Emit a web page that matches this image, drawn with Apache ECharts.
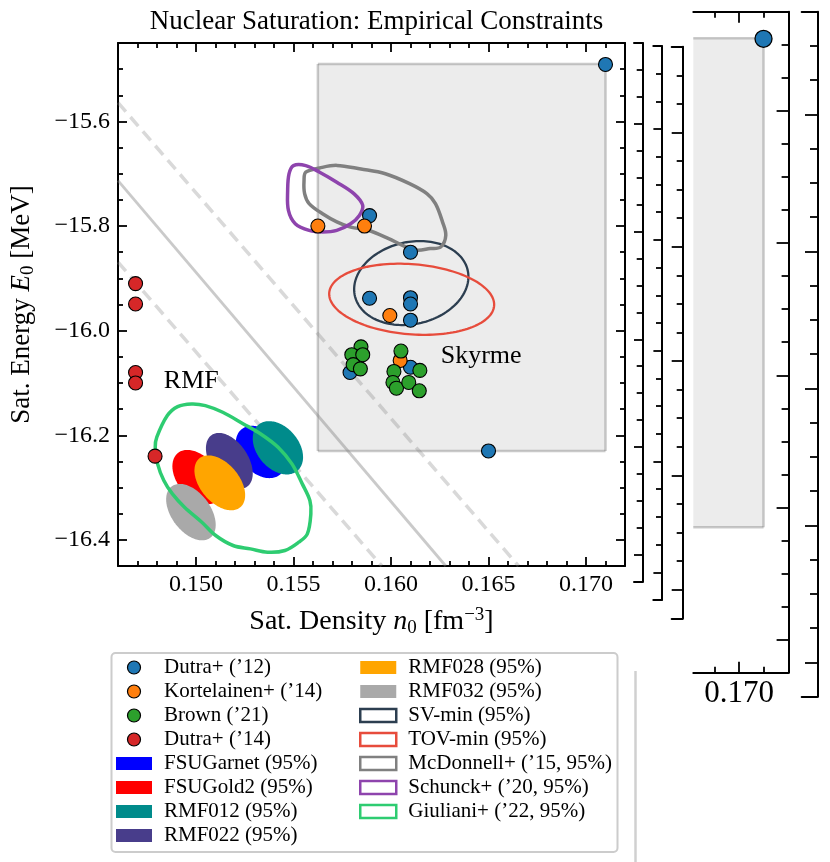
<!DOCTYPE html>
<html><head><meta charset="utf-8">
<script src="https://cdn.jsdelivr.net/npm/echarts@6/dist/echarts.min.js"></script>
<style>html,body{margin:0;padding:0;background:#fff}#c{width:830px;height:862px}</style>
</head><body><div id="c"></div>
<script>
// ---------------- data ----------------
const X_MIN = 0.146, X_MAX = 0.172, Y_MIN = -16.45, Y_MAX = -15.45;
const INSET_X_MIN = 0.16811, INSET_X_MAX = 0.17202;
const xMajorTicks = [0.150, 0.155, 0.160, 0.165, 0.170];
const yMajorTicks = [-16.4, -16.2, -16.0, -15.8, -15.6];
const insetXMajorTicks = [0.170];
const insetXMinorTicks = [0.169, 0.171];

const dutra12 = [[0.1710,-15.491],[0.1589,-15.780],[0.1610,-15.850],[0.1589,-15.938],[0.1610,-15.937],
  [0.1610,-15.949],[0.1610,-15.980],[0.1579,-16.080],[0.1610,-16.070],[0.1650,-16.230]];
const kortelainen14 = [[0.15625,-15.800],[0.15864,-15.800],[0.15994,-15.971],[0.16047,-16.057]];
const brown21 = [[0.15846,-16.031],[0.15799,-16.046],[0.15855,-16.046],[0.15806,-16.065],[0.15843,-16.073],
  [0.16051,-16.039],[0.16015,-16.078],[0.16148,-16.076],[0.16010,-16.099],[0.16028,-16.110],[0.16091,-16.099],[0.16145,-16.115]];
const dutra14 = [[0.1469,-15.910],[0.1469,-15.949],[0.1469,-16.080],[0.1469,-16.100],[0.1479,-16.240]];

// [cx, cy, halfWidthX, halfWidthY, correlation]
const fsuGarnet = [0.15332,-16.232,0.00128,0.050,-0.35];
const fsuGold2  = [0.15007,-16.280,0.00128,0.052,-0.40];
const rmf012    = [0.15420,-16.224,0.00129,0.051,-0.35];
const rmf022    = [0.15171,-16.249,0.00120,0.0535,-0.45];
const rmf028    = [0.15122,-16.291,0.00130,0.0525,-0.45];
const rmf032    = [0.14974,-16.347,0.00127,0.054,-0.45];
const svMin     = [0.16104,-15.909,0.00293,0.0803,0.15];
const tovMin    = [0.16106,-15.940,0.00423,0.068,-0.15];

const mcDonnell = [[0.15563,-15.697],[0.15634,-15.689],[0.15722,-15.684],[0.15846,-15.691],[0.15971,-15.700],
  [0.16095,-15.719],[0.16184,-15.738],[0.16228,-15.757],[0.16264,-15.792],[0.16281,-15.818],[0.16255,-15.840],
  [0.16201,-15.843],[0.16130,-15.846],[0.16059,-15.837],[0.15988,-15.824],[0.15882,-15.808],[0.15793,-15.802],
  [0.15722,-15.792],[0.15651,-15.777],[0.15580,-15.757],[0.15557,-15.738],[0.15554,-15.713]];
const schunck = [[0.15500,-15.6844],[0.15563,-15.6844],[0.15634,-15.6971],[0.15722,-15.7162],[0.15811,-15.7384],
  [0.15855,-15.7606],[0.15838,-15.7797],[0.15793,-15.7956],[0.15722,-15.8083],[0.15651,-15.8114],[0.15580,-15.8083],
  [0.15509,-15.7956],[0.15474,-15.7702],[0.15470,-15.7321],[0.15477,-15.7003]];
const giuliani = [[0.14799,-16.2038],[0.14853,-16.1624],[0.14906,-16.1452],[0.14977,-16.1401],[0.15048,-16.1433],
  [0.15137,-16.1561],[0.15243,-16.1783],[0.15332,-16.1975],[0.15421,-16.2229],[0.15492,-16.2548],[0.15545,-16.2930],
  [0.15584,-16.3248],[0.15589,-16.3503],[0.15571,-16.3885],[0.15527,-16.4045],[0.15456,-16.4204],[0.15367,-16.4236],
  [0.15279,-16.4172],[0.15190,-16.4108],[0.15101,-16.3917],[0.15030,-16.3662],[0.14941,-16.3376],[0.14879,-16.3121],
  [0.14835,-16.2866],[0.14803,-16.2548],[0.14791,-16.2229]];

const skyrmeBox = [0.15625,-16.23,0.1710,-15.49];
const bandCentre = [[0.146,-15.713],[0.16281,-16.45]];
const bandUpper  = [[0.146,-15.564],[0.16654,-16.45]];
const bandLower  = [[0.146,-15.869],[0.15953,-16.45]];
const textLabels = [[0.14835,-16.096,'RMF'],[0.16255,-16.048,'Skyrme']];

// ---------------- helpers ----------------
const FONT = 'Liberation Serif';
const xMinorTicks = []; for (let k = 147; k <= 171; k++) if (k % 5) xMinorTicks.push(k / 1000);
const yMinorTicks = []; for (let k = -328; k <= -310; k++) if (k % 4) yMinorTicks.push(+(k * 0.05).toFixed(2));

const xAxes = [], yAxes = [];
function valueAxis(gridIndex, position, min, max, ticks, len, lineShown, label, extra) {
  return Object.assign({
    type: 'value', gridIndex, position, min, max,
    axisLine: { show: lineShown, onZero: false, lineStyle: { color: '#000', width: 2 } },
    axisTick: { show: ticks.length > 0, inside: true, length: len, customValues: ticks, lineStyle: { color: '#000', width: 1.8 } },
    axisLabel: label ? Object.assign({ show: true, customValues: ticks, color: '#000', fontFamily: FONT }, label) : { show: false },
    splitLine: { show: false }, axisPointer: { show: false }
  }, extra || {});
}
function add(list, o) { list.push(o); return list.length - 1; }

// main grid 0
function richName(size) {
  return {
    a: { fontFamily: FONT, fontSize: size, color: '#000', lineHeight: 32 },
    i: { fontFamily: FONT, fontSize: size, fontStyle: 'italic', color: '#000', lineHeight: 32 },
    s: { fontFamily: FONT, fontSize: 19, color: '#000', verticalAlign: 'bottom', lineHeight: 17 },
    p: { fontFamily: FONT, fontSize: 19, color: '#000', verticalAlign: 'top', lineHeight: 17 }
  };
}
add(xAxes, valueAxis(0, 'bottom', X_MIN, X_MAX, xMajorTicks, 9, true,
  { fontSize: 24, margin: 7, formatter: v => v.toFixed(3) },
  { name: '{a|Sat. Density }{i|n}{s|0}{a| [fm}{p|−3}{a|]}', nameLocation: 'middle', nameGap: 40,
    nameTextStyle: { rich: richName(28) } }));
add(xAxes, valueAxis(0, 'bottom', X_MIN, X_MAX, xMinorTicks, 5, false));
add(xAxes, valueAxis(0, 'top', X_MIN, X_MAX, xMajorTicks, 9, true));
add(xAxes, valueAxis(0, 'top', X_MIN, X_MAX, xMinorTicks, 5, false));
add(yAxes, valueAxis(0, 'left', Y_MIN, Y_MAX, yMajorTicks, 9, true,
  { fontSize: 24, margin: 8, formatter: v => '−' + Math.abs(v).toFixed(1) },
  { name: '{a|Sat. Energy }{i|E}{s|0}{a| [MeV]}', nameLocation: 'middle', nameGap: 80,
    nameTextStyle: { rich: richName(27) } }));
add(yAxes, valueAxis(0, 'left', Y_MIN, Y_MAX, yMinorTicks, 5, false));
add(yAxes, valueAxis(0, 'right', Y_MIN, Y_MAX, yMajorTicks, 9, true));
add(yAxes, valueAxis(0, 'right', Y_MIN, Y_MAX, yMinorTicks, 5, false));

// inset grid 1
const iX = add(xAxes, valueAxis(1, 'bottom', INSET_X_MIN, INSET_X_MAX, insetXMajorTicks, 11, true,
  { fontSize: 31, margin: 6, formatter: v => v.toFixed(3) }));
add(xAxes, valueAxis(1, 'bottom', INSET_X_MIN, INSET_X_MAX, insetXMinorTicks, 6, false));
add(xAxes, valueAxis(1, 'top', INSET_X_MIN, INSET_X_MAX, insetXMajorTicks, 11, true));
add(xAxes, valueAxis(1, 'top', INSET_X_MIN, INSET_X_MAX, insetXMinorTicks, 6, false));
const iY = add(yAxes, valueAxis(1, 'right', Y_MIN, Y_MAX, yMajorTicks, 11.7, true));
add(yAxes, valueAxis(1, 'right', Y_MIN, Y_MAX, yMinorTicks, 6.7, false));

// extra tick-only frames (grids 2..5)
const frames = [
  { left: 634, top: 43, width: 8.7, height: 538.7, major: 8.7, minor: 6 },
  { left: 653.3, top: 46, width: 8.4, height: 554, major: 8.3, minor: 5.7 },
  { left: 671.7, top: 46.7, width: 11, height: 571.6, major: 11, minor: 6 },
  { left: 801.7, top: 11.7, width: 15.6, height: 685, major: 12.3, minor: 7.3 }
];
const grids = [
  { left: 118, top: 43, width: 507, height: 523 },
  { left: 693.3, top: 11.7, width: 95, height: 661 }
];
frames.forEach((f, i) => {
  const gi = i + 2;
  grids.push({ left: f.left, top: f.top, width: f.width, height: f.height });
  add(xAxes, valueAxis(gi, 'bottom', 0, 1, [], 0, true));
  add(xAxes, valueAxis(gi, 'top', 0, 1, [], 0, true));
  add(yAxes, valueAxis(gi, 'right', Y_MIN, Y_MAX, yMajorTicks, f.major, true));
  add(yAxes, valueAxis(gi, 'right', Y_MIN, Y_MAX, yMinorTicks, f.minor, false));
});
grids.forEach(g => { g.containLabel = false; g.outerBoundsMode = 'none'; });

// ---------------- render helpers ----------------
function ellipseRender(fill, stroke, lw) {
  return function (params, api) {
    const cx = api.value(0), cy = api.value(1), sx = api.value(2), sy = api.value(3), rho = api.value(4);
    const phi = Math.acos(rho), pts = [];
    for (let i = 0; i < 144; i++) {
      const t = i / 144 * 2 * Math.PI;
      pts.push(api.coord([cx + sx * Math.cos(t), cy + sy * Math.cos(t + phi)]));
    }
    return { type: 'polygon', shape: { points: pts },
      style: fill ? { fill: fill, stroke: null } : { fill: null, stroke: stroke, lineWidth: lw } };
  };
}
function contourRender(stroke, lw) {
  return function (params, api) {
    if (params.dataIndexInside !== 0) return null;
    const pts = [];
    for (let i = 0; i < params.dataInsideLength; i++) pts.push(api.coord([api.value(0, i), api.value(1, i)]));
    return { type: 'polygon', shape: { points: pts, smooth: 0.35 },
      style: { fill: null, stroke: stroke, lineWidth: lw, lineJoin: 'round' } };
  };
}
function boxRender(params, api) {
  const a = api.coord([api.value(0), api.value(3)]);
  const b = api.coord([api.value(2), api.value(1)]);
  const cs = params.coordSys;
  const L = Math.max(a[0], cs.x), R = Math.min(b[0], cs.x + cs.width);
  const T = Math.max(a[1], cs.y), B = Math.min(b[1], cs.y + cs.height);
  const st = { stroke: 'rgba(128,128,128,0.42)', lineWidth: 2.5 };
  const ch = [{ type: 'rect', shape: { x: L, y: T, width: R - L, height: B - T }, style: { fill: 'rgba(128,128,128,0.15)' } }];
  if (a[1] >= cs.y) ch.push({ type: 'line', shape: { x1: L, y1: a[1], x2: R, y2: a[1] }, style: st });
  if (b[1] <= cs.y + cs.height) ch.push({ type: 'line', shape: { x1: L, y1: b[1], x2: R, y2: b[1] }, style: st });
  if (a[0] >= cs.x) ch.push({ type: 'line', shape: { x1: a[0], y1: T, x2: a[0], y2: B }, style: st });
  if (b[0] <= cs.x + cs.width) ch.push({ type: 'line', shape: { x1: b[0], y1: T, x2: b[0], y2: B }, style: st });
  return { type: 'group', children: ch };
}
function textRender(params, api) {
  const p = api.coord([api.value(0), api.value(1)]);
  return { type: 'text', x: p[0], y: p[1],
    style: { text: api.value(2), fontFamily: FONT, fontSize: 26, fill: '#000', align: 'left', verticalAlign: 'middle' } };
}

const series = [];
function lineSeries(data, color, w, type) {
  series.push({ type: 'line', data: data, symbol: 'none', silent: true, z: 1, animation: false,
    lineStyle: { color: color, width: w, type: type } });
}
lineSeries(bandCentre, 'rgba(128,128,128,0.42)', 2.8, 'solid');
lineSeries(bandUpper, 'rgba(128,128,128,0.3)', 3.5, [12, 7]);
lineSeries(bandLower, 'rgba(128,128,128,0.3)', 3.5, [12, 7]);

series.push({ type: 'custom', name: 'box', data: [skyrmeBox], renderItem: boxRender, z: 2, silent: true });
series.push({ type: 'custom', name: 'boxInset', data: [skyrmeBox], renderItem: boxRender, z: 2, silent: true,
  xAxisIndex: iX, yAxisIndex: iY });

const ellipses = [
  ['FSUGarnet (95%)', '#0000ff', fsuGarnet], ['FSUGold2 (95%)', '#ff0000', fsuGold2],
  ['RMF012 (95%)', '#008b8b', rmf012], ['RMF022 (95%)', '#483d8b', rmf022],
  ['RMF028 (95%)', '#ffa500', rmf028], ['RMF032 (95%)', '#a9a9a9', rmf032]
];
ellipses.forEach(e => series.push({ type: 'custom', name: e[0], data: [e[2]], encode: { x: 0, y: 1 },
  itemStyle: { color: e[1] }, renderItem: ellipseRender(e[1]), z: 3, silent: true }));

series.push({ type: 'custom', name: 'SV-min (95%)', data: [svMin], encode: { x: 0, y: 1 }, itemStyle: { color: '#2c3e50' },
  renderItem: ellipseRender(null, '#2c3e50', 2.3), z: 4, silent: true });
series.push({ type: 'custom', name: 'TOV-min (95%)', data: [tovMin], encode: { x: 0, y: 1 }, itemStyle: { color: '#e74c3c' },
  renderItem: ellipseRender(null, '#e74c3c', 2.3), z: 4, silent: true });
const contours = [
  ['McDonnell+ (’15, 95%)', '#808080', mcDonnell], ['Schunck+ (’20, 95%)', '#8e44ad', schunck],
  ['Giuliani+ (’22, 95%)', '#2ecc71', giuliani]
];
contours.forEach(c => series.push({ type: 'custom', name: c[0], data: c[2], encode: { x: 0, y: 1 },
  itemStyle: { color: c[1] }, renderItem: contourRender(c[1], 3.5), z: 4, silent: true }));

const pointSets = [
  ['Dutra+ (’12)', '#1f77b4', dutra12], ['Kortelainen+ (’14)', '#ff7f0e', kortelainen14],
  ['Brown (’21)', '#2ca02c', brown21], ['Dutra+ (’14)', '#d62728', dutra14]
];
pointSets.forEach(p => series.push({ type: 'scatter', name: p[0], data: p[2], symbolSize: 14, z: 5, silent: true,
  itemStyle: { color: p[1], borderColor: '#000', borderWidth: 1.1, opacity: 1 } }));
series.push({ type: 'scatter', name: 'insetPoint', data: dutra12, symbolSize: 17, z: 5, silent: true,
  xAxisIndex: iX, yAxisIndex: iY, itemStyle: { color: '#1f77b4', borderColor: '#000', borderWidth: 1.3, opacity: 1 } });

series.push({ type: 'custom', name: 'labels', data: textLabels, encode: { x: 0, y: 1 }, renderItem: textRender, z: 6, silent: true });

// ---------------- legend ----------------
function legendItem(name) {
  const pt = pointSets.find(p => p[0] === name);
  if (pt) return { name, icon: 'circle', itemStyle: { color: pt[1], borderColor: '#000', borderWidth: 1.2, opacity: 1 } };
  const el = ellipses.find(e => e[0] === name);
  if (el) return { name, icon: 'rect', itemStyle: { color: el[1], borderWidth: 0 } };
  const outl = [['SV-min (95%)', '#2c3e50'], ['TOV-min (95%)', '#e74c3c']].concat(contours.map(c => [c[0], c[1]]))
    .find(c => c[0] === name);
  return { name, icon: 'rect', itemStyle: { color: '#ffffff', borderColor: outl[1], borderWidth: 2.5 } };
}
const legendCol1 = ['Dutra+ (’12)', 'Kortelainen+ (’14)', 'Brown (’21)', 'Dutra+ (’14)',
  'FSUGarnet (95%)', 'FSUGold2 (95%)', 'RMF012 (95%)', 'RMF022 (95%)'];
const legendCol2 = ['RMF028 (95%)', 'RMF032 (95%)', 'SV-min (95%)', 'TOV-min (95%)',
  'McDonnell+ (’15, 95%)', 'Schunck+ (’20, 95%)', 'Giuliani+ (’22, 95%)'];
const legendBase = { orient: 'vertical', itemWidth: 36, itemHeight: 13, itemGap: 3, selectedMode: false, padding: 0,
  textStyle: { fontFamily: FONT, fontSize: 21, color: '#000', lineHeight: 20, padding: [0, 0, 0, 7] } };

const chart = echarts.init(document.getElementById('c'), null, { renderer: 'canvas' });
chart.setOption({
  animation: false,
  backgroundColor: '#fff',
  title: { text: 'Nuclear Saturation: Empirical Constraints', left: 371.5, textAlign: 'center', top: 3,
    textStyle: { fontFamily: FONT, fontSize: 27, fontWeight: 'normal', color: '#000' } },
  grid: grids,
  xAxis: xAxes,
  yAxis: yAxes,
  legend: [
    Object.assign({}, legendBase, { left: 116, top: 657, data: legendCol1.map(legendItem) }),
    Object.assign({}, legendBase, { left: 359, top: 657, data: legendCol2.map(legendItem) })
  ],
  graphic: [
    { type: 'rect', z: -10, shape: { x: 111.5, y: 653, width: 506, height: 199, r: 4 },
      style: { fill: '#fff', stroke: '#cccccc', lineWidth: 2 } },
    { type: 'line', shape: { x1: 635.5, y1: 671, x2: 635.5, y2: 862 }, style: { stroke: '#d0d0d0', lineWidth: 2.5 } }
  ],
  series: series
});
</script></body></html>
